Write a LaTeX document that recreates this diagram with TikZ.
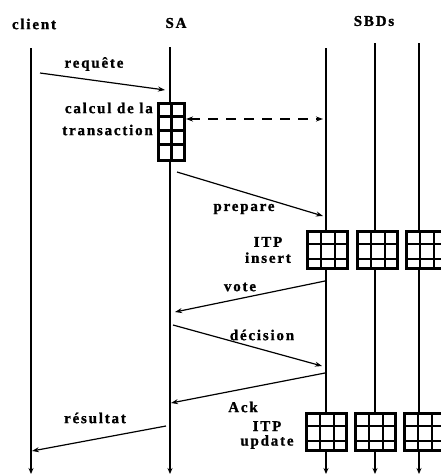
\documentclass[tikz,border=0pt]{standalone}
\usepackage{fontspec}
\usepackage{tikz}
\usetikzlibrary{arrows.meta, positioning, calc}

\newfontfamily\lblfont[LetterSpace=12, UprightFont=* Bold, FakeBold=1.2]{Liberation Serif}

% one ITP block: 3x3 cells, top-left corner at (#1,#2)
\newcommand{\itpbox}[3]{%
    \node[cellbox, minimum width=40pt, minimum height=37pt,
          anchor=north west] (#3) at (#1,#2) {};
    \draw[cellline] ([xshift=15pt]#3.north west) -- ([xshift=15pt]#3.south west);
    \draw[cellline] ([xshift=29pt]#3.north west) -- ([xshift=29pt]#3.south west);
    \draw[cellline] ([yshift=-14pt]#3.north west) -- ([yshift=-14pt]#3.north east);
    \draw[cellline] ([yshift=-29pt]#3.north west) -- ([yshift=-29pt]#3.north east);
}

\begin{document}
\begin{tikzpicture}[
    x=1pt, y=-1pt,
    lbl/.style={font=\lblfont\fontsize{15}{16}\selectfont, inner sep=0pt},
    life/.style={line width=1.4pt, -{Stealth[length=6pt,width=5pt]}},
    msg/.style={line width=1.2pt, -{Stealth[length=7pt,width=5pt]}},
    cellbox/.style={draw, fill=white, line width=3.2pt, inner sep=0pt},
    cellline/.style={line width=2.8pt}
]
\useasboundingbox (0,0) rectangle (441,475);

% titles
\node[lbl] (tclient) at (34,24) {client};
\node[lbl] (tsa) at (176,23) {SA};
\node[lbl] (tsbd) at (374,21) {SBDs};

% lifelines
\coordinate (cl-top) at (31,48);  \coordinate (cl-bot) at (31,474);
\coordinate (sa-top) at (170,47); \coordinate (sa-bot) at (170,474);
\coordinate (d1-top) at (326,48); \coordinate (d1-bot) at (326,474);
\coordinate (d2-top) at (375,43); \coordinate (d2-bot) at (375,474);
\coordinate (d3-top) at (419,43); \coordinate (d3-bot) at (419,474);
\foreach \n in {cl,sa,d1,d2,d3}
    \draw[life] (\n-top) -- (\n-bot);

% calcul de la transaction
\node[cellbox, minimum width=26pt, minimum height=57pt,
      anchor=north west] (calc) at (157,102) {};
\draw[cellline] (calc.north) -- (calc.south);
\foreach \dy in {14.25,28.5,42.75}
    \draw[cellline] ([yshift=-\dy pt]calc.north west) -- ([yshift=-\dy pt]calc.north east);
\node[lbl, align=right, anchor=east,
      font=\lblfont\fontsize{15}{22}\selectfont] (tcalc) at (153,119)
    {calcul de la\\transaction};

% ITP blocks
\itpbox{306}{230}{ins1}
\itpbox{356}{230}{ins2}
\itpbox{405}{230}{ins3}
\itpbox{305}{412}{upd1}
\itpbox{354}{412}{upd2}
\itpbox{403}{412}{upd3}
\node[lbl, align=center] (tins) at (268,250) {ITP\\insert};
\node[lbl, align=center,
      font=\lblfont\fontsize{15}{14.5}\selectfont] (tupd) at (267,435) {ITP\\update};

% messages
\coordinate (m1a) at (40,73);   \coordinate (m1b) at (165,90);
\coordinate (dsa) at (186,119); \coordinate (dsb) at (323,119);
\coordinate (m2a) at (177,172); \coordinate (m2b) at (323,216);
\coordinate (m3a) at (325,281); \coordinate (m3b) at (175,312);
\coordinate (m4a) at (173,325); \coordinate (m4b) at (322,366);
\coordinate (m5a) at (325,373); \coordinate (m5b) at (171,403);
\coordinate (m6a) at (166,426); \coordinate (m6b) at (32,451);

\draw[msg] (m1a) -- (m1b);
\draw[
    line width=1.2pt,
    dash pattern=on 10pt off 8pt,
    {Stealth[length=7pt,width=5pt]}-{Stealth[length=7pt,width=5pt]}
] (dsa) -- (dsb);
\draw[msg] (m2a) -- (m2b);
\draw[msg] (m3a) -- (m3b);
\draw[msg] (m4a) -- (m4b);
\draw[msg] (m5a) -- (m5b);
\draw[msg] (m6a) -- (m6b);

\node[lbl] (treq) at (94,64) {requête};
\node[lbl] (tprep) at (244,209) {prepare};
\node[lbl] (tvote) at (240,287) {vote};
\node[lbl] (tdec) at (262,335) {décision};
\node[lbl] (tack) at (243,407) {Ack};
\node[lbl] (tres) at (95,418) {résultat};

\end{tikzpicture}
\end{document}
